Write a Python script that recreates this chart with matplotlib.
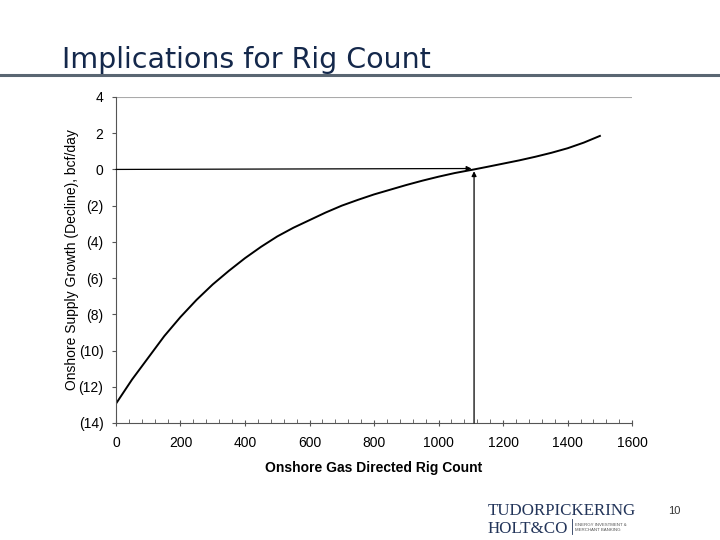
import matplotlib.pyplot as plt
import numpy as np
from matplotlib.ticker import MultipleLocator, FuncFormatter

# curve
rig_count = [0, 50, 100, 150, 200, 250, 300, 350, 400, 450, 500, 550, 600, 650, 700, 750,
             800, 850, 900, 950, 1000, 1050, 1110, 1150, 1200, 1250, 1300, 1350, 1400, 1450, 1500]
supply_growth = [-12.94, -11.6, -10.4, -9.2, -8.15, -7.2, -6.35, -5.6, -4.9, -4.27, -3.7, -3.22,
                 -2.8, -2.38, -2.0, -1.68, -1.38, -1.12, -0.86, -0.62, -0.4, -0.2, 0.0, 0.14,
                 0.32, 0.5, 0.7, 0.92, 1.17, 1.48, 1.85]

breakeven_rigs = 1110
y_ticks = [4, 2, 0, -2, -4, -6, -8, -10, -12, -14]

plt.rcParams['font.family'] = ['Liberation Sans', 'DejaVu Sans']

fig = plt.figure(figsize=(7.2, 5.4), dpi=100)
ax = fig.add_axes([0.161, 0.2167, 0.717, 0.6037])

ax.plot(rig_count, supply_growth, color='black', lw=1.4)

# arrows to the break-even point
ax.annotate('', xy=(breakeven_rigs - 8, 0.05), xytext=(0, 0.0),
            arrowprops=dict(arrowstyle='-|>', color='black', lw=0.9,
                            mutation_scale=7, shrinkA=0, shrinkB=0))
ax.annotate('', xy=(breakeven_rigs, -0.1), xytext=(breakeven_rigs, -14),
            arrowprops=dict(arrowstyle='-|>', color='black', lw=0.9,
                            mutation_scale=7, shrinkA=0, shrinkB=0))

ax.set_xlim(0, 1600)
ax.set_ylim(-14, 4)
ax.set_xticks(np.arange(0, 1601, 200))
ax.xaxis.set_minor_locator(MultipleLocator(40))
ax.set_yticks(y_ticks)
ax.yaxis.set_major_formatter(FuncFormatter(lambda v, p: f"({abs(int(v))})" if v < 0 else f"{int(v)}"))

ax.axhline(4, color='#aaaaaa', lw=0.8)
for s in ['top', 'right']:
    ax.spines[s].set_visible(False)
ax.spines['left'].set_color('#555555')
ax.spines['bottom'].set_color('#555555')
ax.spines['left'].set_linewidth(0.8)
ax.spines['bottom'].set_linewidth(0.8)

ax.tick_params(axis='x', which='major', direction='inout', length=5, width=0.8,
               color='#555555', labelsize=10, pad=7)
ax.tick_params(axis='x', which='minor', direction='in', length=3, width=0.6, color='#555555')
ax.tick_params(axis='y', direction='out', length=3, width=0.8, color='#555555',
               labelsize=10, pad=6)

ax.set_xlabel('Onshore Gas Directed Rig Count', fontsize=10, fontweight='bold', labelpad=8)
ax.set_ylabel('Onshore Supply Growth (Decline), bcf/day', fontsize=10, labelpad=0)

# slide decoration
fig.text(0.086, 0.874, 'Implications for Rig Count', fontsize=20.5, color='#14284b',
         family=['DejaVu Sans'])
fig.add_artist(plt.Line2D([0, 1], [0.861, 0.861], color='#5a6672', lw=2.2))
fig.text(0.677, 0.046, 'TUDORPICKERING', fontsize=12.2, color='#23355a',
         family=['Liberation Serif'])
fig.text(0.677, 0.013, 'HOLT&CO', fontsize=12.2, color='#23355a',
         family=['Liberation Serif'])
fig.add_artist(plt.Line2D([0.794, 0.794], [0.012, 0.038], color='#23355a', lw=0.6))
fig.text(0.799, 0.016, 'ENERGY INVESTMENT &\nMERCHANT BANKING', fontsize=3.2, color='#555555',
         linespacing=1.3)
fig.text(0.928, 0.048, '10', fontsize=8, color='#333333')

fig.savefig('out.png', dpi=100)
